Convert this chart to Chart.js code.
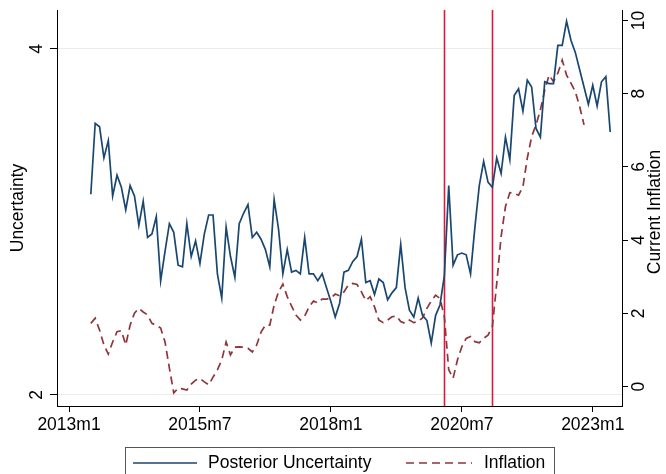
<!DOCTYPE html>
<html>
<head>
<meta charset="utf-8">
<script src="https://cdn.jsdelivr.net/npm/chart.js@4/dist/chart.umd.min.js"></script>
<style>
  html, body { margin: 0; padding: 0; background: #fff; }
  #wrap { width: 666px; height: 474px; }
</style>
</head>
<body>
<div id="wrap"><canvas id="c" width="666" height="474"></canvas></div>
<script>
// Monthly series, first observation 2013m6 (month index 5 counted from 2013m1)
const firstMonth = "2013m6";

// Posterior uncertainty (left axis), 2013m6 .. 2023m5
const uncertainty = [
  3.16, 3.57, 3.55, 3.37, 3.47, 3.15, 3.27, 3.20, 3.07, 3.21,
  3.15, 2.98, 3.12, 2.91, 2.93, 3.03, 2.66, 2.83, 2.99, 2.94,
  2.75, 2.74, 2.99, 2.80, 2.89, 2.76, 2.93, 3.04, 3.04, 2.70,
  2.56, 2.97, 2.80, 2.68, 2.99, 3.05, 3.10, 2.91, 2.94, 2.90,
  2.84, 2.74, 3.13, 2.96, 2.70, 2.84, 2.71, 2.72, 2.70, 2.91,
  2.70, 2.70, 2.66, 2.70, 2.62, 2.54, 2.45, 2.53, 2.71, 2.72,
  2.77, 2.80, 2.90, 2.65, 2.66, 2.58, 2.67, 2.65, 2.55, 2.59,
  2.62, 2.87, 2.62, 2.49, 2.45, 2.56, 2.46, 2.43, 2.30, 2.46,
  2.52, 2.69, 3.21, 2.75, 2.81, 2.82, 2.81, 2.70, 2.97, 3.21,
  3.35, 3.23, 3.20, 3.37, 3.28, 3.49, 3.36, 3.73, 3.77, 3.64,
  3.82, 3.78, 3.54, 3.49, 3.81, 3.80, 3.80, 4.02, 4.02, 4.16,
  4.05, 3.98, 3.88, 3.78, 3.68, 3.79, 3.67, 3.81, 3.84, 3.52
];

// Current inflation (right axis), 2013m6 .. 2022m11
const inflation = [
  1.73, 1.87, 1.55, 1.14, 0.89, 1.22, 1.50, 1.53, 1.14, 1.68,
  2.01, 2.14, 2.04, 1.96, 1.73, 1.68, 1.60, 1.22, 0.51, -0.17,
  -0.04, -0.06, -0.09, 0.07, 0.18, 0.23, 0.13, 0.05, 0.26, 0.46,
  0.73, 1.22, 0.87, 1.08, 1.09, 1.08, 1.05, 0.95, 1.14, 1.49,
  1.68, 1.68, 2.23, 2.59, 2.80, 2.46, 2.20, 1.96, 1.82, 1.93,
  2.18, 2.34, 2.29, 2.39, 2.39, 2.42, 2.53, 2.48, 2.59, 2.78,
  2.82, 2.79, 2.59, 2.35, 2.46, 2.18, 1.82, 1.75, 1.82, 1.91,
  1.93, 1.78, 1.73, 1.82, 1.75, 1.78, 1.88, 2.14, 2.34, 2.50,
  2.41, 1.91, 0.46, 0.23, 0.73, 1.09, 1.32, 1.37, 1.23, 1.20,
  1.32, 1.41, 1.64, 2.82, 4.10, 4.92, 5.30, 5.28, 5.23, 5.46,
  6.24, 6.83, 7.15, 7.56, 8.10, 8.51, 8.33, 8.56, 8.92, 8.51,
  8.29, 8.06, 7.65, 7.15
];

// Axis ticks
const xTickLabels = ["2013m1", "2015m7", "2018m1", "2020m7", "2023m1"];
const leftTicks = [2, 4];
const rightTicks = [0, 2, 4, 6, 8, 10];

// Months marked with vertical reference lines
const eventMonths = ["2020m3", "2021m2"];

// Helpers: "YYYYmM" <-> months since 2013m1
const baseYear = 2013;
function monthIndex(s) {
  const [y, m] = s.split("m").map(Number);
  return (y - baseYear) * 12 + (m - 1);
}
const start = monthIndex(firstMonth);
const toPoints = arr => arr.map((v, i) => ({ x: start + i, y: v }));
const xTickValues = xTickLabels.map(monthIndex);

const FONT = "'Liberation Sans', Arial, Helvetica, sans-serif";
const FS = 17.5;
const NAVY = "#1a476f";
const MAROON = "#90353b";
const EVENT = "#dc1a3c";

// Rotated y-axis tick labels and titles, event lines and the framed legend
const decor = {
  id: "decor",
  beforeDatasetsDraw(chart) {
    const { ctx, chartArea, scales } = chart;
    ctx.save();
    ctx.strokeStyle = EVENT;
    ctx.lineWidth = 1.6;
    eventMonths.forEach(m => {
      const px = Math.round(scales.x.getPixelForValue(monthIndex(m))) + 0.5;
      ctx.beginPath();
      ctx.moveTo(px, chartArea.top);
      ctx.lineTo(px, chartArea.bottom);
      ctx.stroke();
    });
    ctx.restore();
  },
  afterDraw(chart) {
    const { ctx, chartArea, scales } = chart;
    ctx.save();
    ctx.fillStyle = "#000";
    ctx.font = FS + "px " + FONT;
    ctx.textAlign = "center";
    ctx.textBaseline = "middle";
    const rot = (text, x, y) => {
      ctx.save();
      ctx.translate(x, y);
      ctx.rotate(-Math.PI / 2);
      ctx.fillText(text, 0, 0);
      ctx.restore();
    };
    leftTicks.forEach(v => rot(String(v), 37, scales.yU.getPixelForValue(v)));
    rightTicks.forEach(v => rot(String(v), 639, scales.yI.getPixelForValue(v)));
    const midY = (chartArea.top + chartArea.bottom) / 2;
    rot(chart.data.datasets[0].yTitle, 18, midY);
    rot(chart.data.datasets[1].yTitle, 655, midY + 4);

    // Legend
    const lx0 = 125, lx1 = 554, ly0 = 447.5, ly1 = 490, cy = 463;
    ctx.fillStyle = "#fff";
    ctx.fillRect(lx0, ly0, lx1 - lx0, ly1 - ly0);
    ctx.strokeStyle = "#555";
    ctx.lineWidth = 1;
    ctx.strokeRect(lx0 + 0.5, ly0, lx1 - lx0, ly1 - ly0);
    const items = [
      { ds: chart.data.datasets[0], x0: 133, x1: 197, tx: 208 },
      { ds: chart.data.datasets[1], x0: 406, x1: 472, tx: 484 }
    ];
    items.forEach(it => {
      ctx.strokeStyle = it.ds.borderColor;
      ctx.lineWidth = it.ds.borderWidth;
      ctx.setLineDash(it.ds.borderDash || []);
      ctx.beginPath();
      ctx.moveTo(it.x0, cy);
      ctx.lineTo(it.x1, cy);
      ctx.stroke();
      ctx.setLineDash([]);
      ctx.fillStyle = "#000";
      ctx.textAlign = "left";
      ctx.textBaseline = "middle";
      ctx.fillText(it.ds.label, it.tx, cy);
    });
    ctx.restore();
  }
};

new Chart(document.getElementById("c"), {
  type: "line",
  data: {
    datasets: [
      {
        label: "Posterior Uncertainty",
        yTitle: "Uncertainty",
        data: toPoints(uncertainty),
        yAxisID: "yU",
        borderColor: NAVY,
        borderWidth: 1.7,
        pointRadius: 0,
        tension: 0,
        fill: false
      },
      {
        label: "Inflation",
        yTitle: "Current Inflation",
        data: toPoints(inflation),
        yAxisID: "yI",
        borderColor: MAROON,
        borderWidth: 1.7,
        borderDash: [8, 5],
        pointRadius: 0,
        tension: 0,
        fill: false
      }
    ]
  },
  options: {
    responsive: false,
    animation: false,
    layout: { padding: { top: 10, left: 0, right: 0, bottom: 0 } },
    plugins: { legend: { display: false }, tooltip: { enabled: false } },
    scales: {
      x: {
        type: "linear",
        position: "bottom",
        min: -2.75,
        max: 126.7,
        afterBuildTicks: s => { s.ticks = xTickValues.map(v => ({ value: v })); },
        afterFit: s => { s.height = 68; },
        ticks: {
          autoSkip: false,
          maxRotation: 0,
          minRotation: 0,
          padding: 3,
          color: "#000",
          font: { family: FONT, size: FS },
          callback: (v) => xTickLabels[xTickValues.indexOf(v)]
        },
        grid: { drawOnChartArea: false, drawTicks: true, tickLength: 6, color: "#000", tickColor: "#000", lineWidth: 1 },
        border: { display: true, color: "#000", width: 1 }
      },
      yU: {
        type: "linear",
        position: "left",
        min: 1.936,
        max: 4.225,
        afterBuildTicks: s => { s.ticks = leftTicks.map(v => ({ value: v })); },
        afterFit: s => { s.width = 57; },
        ticks: { display: false },
        grid: { drawOnChartArea: true, drawTicks: true, tickLength: 7, color: "#e6eef0", tickColor: "#000", lineWidth: 1 },
        border: { display: true, color: "#000", width: 1 }
      },
      yI: {
        type: "linear",
        position: "right",
        min: -0.527,
        max: 10.287,
        afterBuildTicks: s => { s.ticks = rightTicks.map(v => ({ value: v })); },
        afterFit: s => { s.width = 44; },
        ticks: { display: false },
        grid: { drawOnChartArea: false, drawTicks: true, tickLength: 6, color: "#000", tickColor: "#000", lineWidth: 1 },
        border: { display: true, color: "#000", width: 1 }
      }
    }
  },
  plugins: [decor]
});
</script>
</body>
</html>
